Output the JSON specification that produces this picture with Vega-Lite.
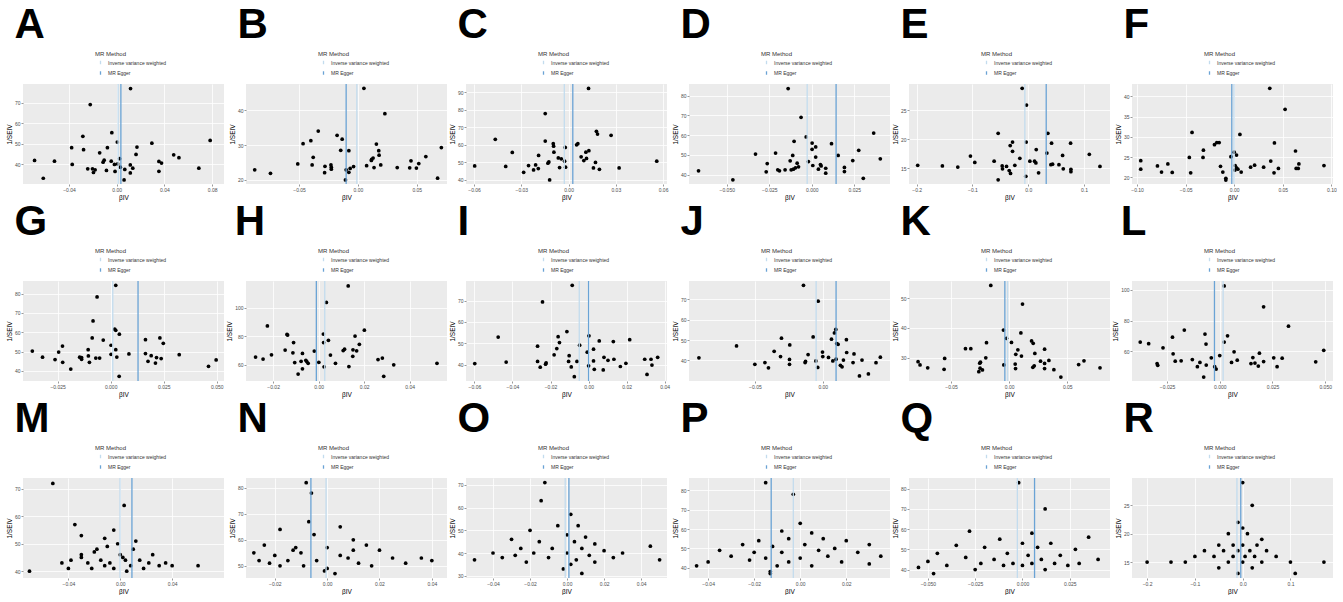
{
"$schema": "https://vega.github.io/schema/vega-lite/v6.json",
"padding": {"left": 6, "top": 4, "right": 0, "bottom": 0},
"spacing": {"row": 0, "column": 2},
"columns": 6,
"datasets": {
"lines": [
{"p":"A","m":"Inverse variance weighted","b":0.0012},{"p":"A","m":"MR Egger","b":0.0035},
{"p":"B","m":"Inverse variance weighted","b":-0.0009},{"p":"B","m":"MR Egger","b":-0.010},
{"p":"C","m":"Inverse variance weighted","b":-0.0027},{"p":"C","m":"MR Egger","b":0.0027},
{"p":"D","m":"Inverse variance weighted","b":-0.0027},{"p":"D","m":"MR Egger","b":0.0143},
{"p":"E","m":"Inverse variance weighted","b":-0.006},{"p":"E","m":"MR Egger","b":0.0323},
{"p":"F","m":"Inverse variance weighted","b":-0.0002},{"p":"F","m":"MR Egger","b":-0.0025},
{"p":"G","m":"Inverse variance weighted","b":0.001},{"p":"G","m":"MR Egger","b":0.0129},
{"p":"H","m":"Inverse variance weighted","b":0.0027},{"p":"H","m":"MR Egger","b":-0.001},
{"p":"I","m":"Inverse variance weighted","b":-0.0049},{"p":"I","m":"MR Egger","b":0.0},
{"p":"J","m":"Inverse variance weighted","b":-0.0049},{"p":"J","m":"MR Egger","b":0.0098},
{"p":"K","m":"Inverse variance weighted","b":-0.0014},{"p":"K","m":"MR Egger","b":-0.0037},
{"p":"L","m":"Inverse variance weighted","b":0.0016},{"p":"L","m":"MR Egger","b":-0.0025},
{"p":"M","m":"Inverse variance weighted","b":-0.0002},{"p":"M","m":"MR Egger","b":0.009},
{"p":"N","m":"Inverse variance weighted","b":-0.0004},{"p":"N","m":"MR Egger","b":-0.0062},
{"p":"O","m":"Inverse variance weighted","b":-0.001},{"p":"O","m":"MR Egger","b":0.001},
{"p":"P","m":"Inverse variance weighted","b":-0.003},{"p":"P","m":"MR Egger","b":-0.0126},
{"p":"Q","m":"Inverse variance weighted","b":-0.0027},{"p":"Q","m":"MR Egger","b":0.0064},
{"p":"R","m":"Inverse variance weighted","b":-0.012},{"p":"R","m":"MR Egger","b":-0.004}
],
"pts": [
{"p":"A","b":0.0116,"s":77.0},{"p":"A","b":-0.0222,"s":69.2},{"p":"A","b":-0.0041,"s":55.5},{"p":"A","b":-0.0284,"s":53.7},{"p":"A","b":-0.0378,"s":48.2},{"p":"A","b":-0.0278,"s":47.2},{"p":"A","b":0.0005,"s":50.9},{"p":"A","b":-0.0078,"s":48.2},{"p":"A","b":0.0295,"s":50.4},{"p":"A","b":0.017,"s":48.5},{"p":"A","b":0.0784,"s":51.7},{"p":"A","b":-0.0143,"s":45.7},{"p":"A","b":0.0162,"s":44.9},{"p":"A","b":0.0478,"s":44.7},{"p":"A","b":0.0522,"s":43.3},{"p":"A","b":-0.0105,"s":42.1},{"p":"A","b":-0.0114,"s":41.1},{"p":"A","b":-0.0046,"s":41.6},{"p":"A","b":0.0024,"s":42.8},{"p":"A","b":-0.0689,"s":42.0},{"p":"A","b":-0.0522,"s":41.6},{"p":"A","b":-0.0373,"s":40.0},{"p":"A","b":-0.0019,"s":40.0},{"p":"A","b":0.0008,"s":40.3},{"p":"A","b":0.003,"s":38.7},{"p":"A","b":0.0114,"s":39.8},{"p":"A","b":0.0354,"s":41.5},{"p":"A","b":0.0376,"s":40.7},{"p":"A","b":-0.0243,"s":37.9},{"p":"A","b":-0.0203,"s":37.9},{"p":"A","b":-0.0181,"s":37.4},{"p":"A","b":-0.0195,"s":36.1},{"p":"A","b":-0.0086,"s":37.1},{"p":"A","b":-0.0014,"s":36.6},{"p":"A","b":0.0068,"s":37.6},{"p":"A","b":0.0135,"s":38.2},{"p":"A","b":0.0114,"s":35.9},{"p":"A","b":0.0354,"s":36.7},{"p":"A","b":0.0689,"s":38.2},{"p":"A","b":-0.0616,"s":33.3},{"p":"A","b":0.0062,"s":32.5},
{"p":"B","b":0.0051,"s":46.25},{"p":"B","b":0.0229,"s":39.0},{"p":"B","b":-0.0337,"s":34.0},{"p":"B","b":-0.0177,"s":32.8},{"p":"B","b":-0.0134,"s":31.7},{"p":"B","b":-0.04,"s":31.25},{"p":"B","b":-0.0466,"s":30.4},{"p":"B","b":0.0157,"s":30.3},{"p":"B","b":-0.0146,"s":28.5},{"p":"B","b":-0.0077,"s":28.4},{"p":"B","b":0.0177,"s":28.4},{"p":"B","b":0.018,"s":27.1},{"p":"B","b":-0.038,"s":26.5},{"p":"B","b":0.0129,"s":26.3},{"p":"B","b":0.0117,"s":25.9},{"p":"B","b":0.0114,"s":25.6},{"p":"B","b":0.0709,"s":29.3},{"p":"B","b":0.0577,"s":26.7},{"p":"B","b":0.0451,"s":25.5},{"p":"B","b":0.0517,"s":24.7},{"p":"B","b":-0.0511,"s":24.6},{"p":"B","b":-0.0389,"s":24.3},{"p":"B","b":-0.0229,"s":24.3},{"p":"B","b":-0.028,"s":23.9},{"p":"B","b":0.0194,"s":24.3},{"p":"B","b":0.0074,"s":24.1},{"p":"B","b":-0.0037,"s":23.85},{"p":"B","b":-0.0226,"s":23.65},{"p":"B","b":-0.0226,"s":23.1},{"p":"B","b":-0.0066,"s":23.3},{"p":"B","b":0.0137,"s":23.55},{"p":"B","b":0.0334,"s":23.55},{"p":"B","b":0.044,"s":23.5},{"p":"B","b":0.0497,"s":23.4},{"p":"B","b":-0.0877,"s":22.9},{"p":"B","b":-0.01,"s":22.9},{"p":"B","b":-0.0743,"s":21.9},{"p":"B","b":-0.0283,"s":22.1},{"p":"B","b":-0.0077,"s":22.2},{"p":"B","b":-0.0106,"s":20.0},{"p":"B","b":0.0677,"s":20.5},
{"p":"C","b":0.0127,"s":92.3},{"p":"C","b":-0.0148,"s":77.9},{"p":"C","b":-0.0465,"s":63.2},{"p":"C","b":-0.0148,"s":62.2},{"p":"C","b":0.0177,"s":67.8},{"p":"C","b":0.0184,"s":66.2},{"p":"C","b":0.027,"s":65.5},{"p":"C","b":-0.0097,"s":60.7},{"p":"C","b":-0.0095,"s":59.3},{"p":"C","b":-0.0021,"s":58.6},{"p":"C","b":0.0051,"s":60.1},{"p":"C","b":0.0059,"s":60.7},{"p":"C","b":-0.0357,"s":55.7},{"p":"C","b":-0.0093,"s":55.9},{"p":"C","b":0.0129,"s":56.7},{"p":"C","b":0.011,"s":55.9},{"p":"C","b":-0.019,"s":54.0},{"p":"C","b":-0.0065,"s":52.6},{"p":"C","b":-0.0046,"s":52.1},{"p":"C","b":0.008,"s":53.2},{"p":"C","b":0.0114,"s":52.3},{"p":"C","b":-0.0025,"s":50.7},{"p":"C","b":0.0097,"s":51.1},{"p":"C","b":0.056,"s":50.7},{"p":"C","b":-0.0125,"s":50.3},{"p":"C","b":-0.0131,"s":49.6},{"p":"C","b":0.0171,"s":50.0},{"p":"C","b":-0.0596,"s":48.0},{"p":"C","b":-0.0399,"s":47.7},{"p":"C","b":-0.0254,"s":48.2},{"p":"C","b":-0.0209,"s":48.6},{"p":"C","b":-0.0057,"s":47.1},{"p":"C","b":-0.0019,"s":47.3},{"p":"C","b":0.0158,"s":46.9},{"p":"C","b":0.0321,"s":46.9},{"p":"C","b":-0.0192,"s":46.5},{"p":"C","b":-0.0222,"s":45.7},{"p":"C","b":0.0196,"s":46.1},{"p":"C","b":-0.0285,"s":44.4},{"p":"C","b":-0.012,"s":40.0},
{"p":"D","b":-0.0139,"s":83.7},{"p":"D","b":-0.0063,"s":69.1},{"p":"D","b":0.0364,"s":61.1},{"p":"D","b":-0.0033,"s":59.1},{"p":"D","b":-0.0104,"s":56.9},{"p":"D","b":0.0002,"s":56.0},{"p":"D","b":0.0116,"s":55.7},{"p":"D","b":0.0023,"s":54.0},{"p":"D","b":0.0002,"s":52.8},{"p":"D","b":0.0276,"s":52.3},{"p":"D","b":-0.0331,"s":50.4},{"p":"D","b":-0.0213,"s":50.9},{"p":"D","b":-0.0112,"s":49.7},{"p":"D","b":0.0155,"s":49.7},{"p":"D","b":0.0023,"s":48.9},{"p":"D","b":0.0403,"s":48.0},{"p":"D","b":0.0241,"s":47.1},{"p":"D","b":-0.0127,"s":47.0},{"p":"D","b":-0.002,"s":46.6},{"p":"D","b":-0.0262,"s":45.6},{"p":"D","b":-0.0086,"s":45.8},{"p":"D","b":0.0051,"s":45.1},{"p":"D","b":0.0055,"s":44.4},{"p":"D","b":0.0006,"s":44.6},{"p":"D","b":-0.0078,"s":43.9},{"p":"D","b":-0.0096,"s":43.4},{"p":"D","b":0.0082,"s":43.2},{"p":"D","b":0.0192,"s":43.6},{"p":"D","b":-0.0108,"s":42.7},{"p":"D","b":0.0039,"s":42.7},{"p":"D","b":-0.0121,"s":42.4},{"p":"D","b":-0.0157,"s":42.4},{"p":"D","b":-0.02,"s":42.4},{"p":"D","b":-0.019,"s":41.9},{"p":"D","b":-0.0666,"s":41.9},{"p":"D","b":-0.0268,"s":41.4},{"p":"D","b":0.0192,"s":41.5},{"p":"D","b":0.0082,"s":40.7},{"p":"D","b":0.0303,"s":38.1},{"p":"D","b":-0.0464,"s":37.3},
{"p":"E","b":-0.0108,"s":28.76},{"p":"E","b":-0.003,"s":25.87},{"p":"E","b":-0.0539,"s":21.0},{"p":"E","b":0.0353,"s":21.0},{"p":"E","b":-0.0281,"s":19.5},{"p":"E","b":-0.0036,"s":19.5},{"p":"E","b":0.0419,"s":19.3},{"p":"E","b":0.076,"s":19.3},{"p":"E","b":-0.0323,"s":18.9},{"p":"E","b":-0.0281,"s":17.9},{"p":"E","b":0.0144,"s":18.2},{"p":"E","b":0.0335,"s":17.6},{"p":"E","b":0.0617,"s":17.2},{"p":"E","b":0.1096,"s":17.4},{"p":"E","b":-0.1036,"s":17.1},{"p":"E","b":-0.015,"s":16.7},{"p":"E","b":-0.0958,"s":16.0},{"p":"E","b":-0.0611,"s":16.2},{"p":"E","b":0.003,"s":16.2},{"p":"E","b":0.0114,"s":16.2},{"p":"E","b":0.0138,"s":15.9},{"p":"E","b":0.0437,"s":15.7},{"p":"E","b":0.0407,"s":15.6},{"p":"E","b":0.0551,"s":15.6},{"p":"E","b":-0.024,"s":15.5},{"p":"E","b":-0.0467,"s":15.4},{"p":"E","b":-0.0389,"s":15.3},{"p":"E","b":-0.1982,"s":15.5},{"p":"E","b":-0.1539,"s":15.4},{"p":"E","b":-0.1263,"s":15.2},{"p":"E","b":0.1287,"s":15.3},{"p":"E","b":-0.0461,"s":14.9},{"p":"E","b":0.0629,"s":14.9},{"p":"E","b":0.0766,"s":14.8},{"p":"E","b":0.0766,"s":14.4},{"p":"E","b":-0.0341,"s":14.6},{"p":"E","b":-0.0317,"s":14.1},{"p":"E","b":0.0186,"s":14.2},{"p":"E","b":-0.0042,"s":13.6},{"p":"E","b":-0.0539,"s":13.0},
{"p":"F","b":0.0366,"s":42.0},{"p":"F","b":0.0524,"s":36.8},{"p":"F","b":-0.0434,"s":31.1},{"p":"F","b":0.0059,"s":30.6},{"p":"F","b":-0.0317,"s":26.7},{"p":"F","b":0.0414,"s":28.5},{"p":"F","b":-0.0203,"s":28.05},{"p":"F","b":-0.0179,"s":28.6},{"p":"F","b":-0.0155,"s":28.6},{"p":"F","b":0.0,"s":26.2},{"p":"F","b":0.0024,"s":25.5},{"p":"F","b":0.0631,"s":26.5},{"p":"F","b":-0.0034,"s":25.1},{"p":"F","b":-0.0462,"s":24.9},{"p":"F","b":-0.0321,"s":24.9},{"p":"F","b":-0.0962,"s":24.1},{"p":"F","b":0.0376,"s":24.0},{"p":"F","b":-0.0683,"s":23.3},{"p":"F","b":0.0666,"s":23.3},{"p":"F","b":-0.079,"s":22.8},{"p":"F","b":-0.0141,"s":22.7},{"p":"F","b":0.001,"s":22.9},{"p":"F","b":0.021,"s":23.0},{"p":"F","b":0.0924,"s":22.9},{"p":"F","b":0.0169,"s":22.5},{"p":"F","b":0.0303,"s":22.5},{"p":"F","b":0.0024,"s":22.3},{"p":"F","b":0.0038,"s":22.0},{"p":"F","b":0.0455,"s":22.2},{"p":"F","b":0.0638,"s":22.2},{"p":"F","b":0.0659,"s":22.2},{"p":"F","b":-0.0962,"s":22.0},{"p":"F","b":0.0007,"s":21.8},{"p":"F","b":-0.0748,"s":21.3},{"p":"F","b":0.0072,"s":21.3},{"p":"F","b":-0.0117,"s":21.3},{"p":"F","b":-0.0638,"s":21.2},{"p":"F","b":-0.0448,"s":21.1},{"p":"F","b":0.041,"s":21.1},{"p":"F","b":-0.0086,"s":19.75},{"p":"F","b":-0.0086,"s":19.3},
{"p":"G","b":0.0024,"s":84.3},{"p":"G","b":-0.0064,"s":78.3},{"p":"G","b":-0.0083,"s":65.9},{"p":"G","b":0.0019,"s":61.6},{"p":"G","b":0.0024,"s":61.0},{"p":"G","b":0.0041,"s":59.0},{"p":"G","b":-0.0087,"s":57.1},{"p":"G","b":0.0164,"s":56.2},{"p":"G","b":0.0232,"s":57.1},{"p":"G","b":-0.0035,"s":56.0},{"p":"G","b":0.0248,"s":54.3},{"p":"G","b":-0.0227,"s":52.9},{"p":"G","b":0.0002,"s":53.3},{"p":"G","b":-0.0106,"s":51.0},{"p":"G","b":0.0024,"s":51.0},{"p":"G","b":-0.0369,"s":50.3},{"p":"G","b":-0.0245,"s":49.8},{"p":"G","b":0.0002,"s":48.6},{"p":"G","b":0.0086,"s":48.8},{"p":"G","b":0.0164,"s":49.0},{"p":"G","b":0.0323,"s":48.4},{"p":"G","b":-0.0105,"s":47.8},{"p":"G","b":0.0191,"s":47.9},{"p":"G","b":-0.0321,"s":47.1},{"p":"G","b":-0.0146,"s":47.1},{"p":"G","b":-0.0137,"s":46.9},{"p":"G","b":-0.007,"s":46.7},{"p":"G","b":-0.0052,"s":46.7},{"p":"G","b":0.0029,"s":47.2},{"p":"G","b":0.0216,"s":46.9},{"p":"G","b":0.0238,"s":46.4},{"p":"G","b":-0.0137,"s":46.0},{"p":"G","b":-0.0262,"s":45.9},{"p":"G","b":0.0497,"s":45.7},{"p":"G","b":0.0176,"s":45.0},{"p":"G","b":-0.0226,"s":44.5},{"p":"G","b":-0.01,"s":44.5},{"p":"G","b":0.0211,"s":44.1},{"p":"G","b":0.0461,"s":42.4},{"p":"G","b":-0.0188,"s":41.0},{"p":"G","b":0.004,"s":37.2},
{"p":"H","b":0.013,"s":115.5},{"p":"H","b":0.0034,"s":103.9},{"p":"H","b":-0.0225,"s":87.3},{"p":"H","b":0.0201,"s":84.3},{"p":"H","b":-0.0139,"s":81.3},{"p":"H","b":-0.0136,"s":80.8},{"p":"H","b":0.0021,"s":81.5},{"p":"H","b":0.016,"s":80.1},{"p":"H","b":0.0043,"s":77.1},{"p":"H","b":0.0022,"s":75.5},{"p":"H","b":-0.011,"s":75.5},{"p":"H","b":0.0179,"s":74.3},{"p":"H","b":-0.0147,"s":70.2},{"p":"H","b":0.0114,"s":70.9},{"p":"H","b":0.0108,"s":69.9},{"p":"H","b":0.0151,"s":70.4},{"p":"H","b":0.0167,"s":69.7},{"p":"H","b":-0.0019,"s":69.5},{"p":"H","b":-0.0113,"s":68.3},{"p":"H","b":-0.0071,"s":67.9},{"p":"H","b":-0.0207,"s":66.9},{"p":"H","b":0.0052,"s":66.7},{"p":"H","b":0.015,"s":65.8},{"p":"H","b":-0.0277,"s":65.3},{"p":"H","b":0.028,"s":64.6},{"p":"H","b":-0.0244,"s":63.9},{"p":"H","b":0.0261,"s":63.5},{"p":"H","b":-0.0056,"s":63.0},{"p":"H","b":-0.0052,"s":62.1},{"p":"H","b":-0.0077,"s":62.3},{"p":"H","b":-0.0105,"s":61.4},{"p":"H","b":-0.0046,"s":60.9},{"p":"H","b":0.0001,"s":61.6},{"p":"H","b":0.0074,"s":60.9},{"p":"H","b":0.033,"s":59.8},{"p":"H","b":0.052,"s":60.9},{"p":"H","b":0.0024,"s":58.4},{"p":"H","b":0.0133,"s":58.6},{"p":"H","b":-0.0071,"s":57.0},{"p":"H","b":-0.009,"s":53.3},{"p":"H","b":0.0286,"s":51.7},
{"p":"I","b":-0.0086,"s":77.2},{"p":"I","b":-0.0242,"s":69.4},{"p":"I","b":-0.0114,"s":55.5},{"p":"I","b":-0.0475,"s":52.9},{"p":"I","b":-0.016,"s":53.1},{"p":"I","b":0.0002,"s":53.5},{"p":"I","b":0.0216,"s":51.7},{"p":"I","b":-0.0153,"s":50.3},{"p":"I","b":0.0056,"s":51.1},{"p":"I","b":0.013,"s":50.8},{"p":"I","b":-0.0268,"s":48.6},{"p":"I","b":-0.0047,"s":49.1},{"p":"I","b":-0.0167,"s":47.5},{"p":"I","b":0.0026,"s":47.2},{"p":"I","b":-0.0007,"s":45.8},{"p":"I","b":-0.0181,"s":44.6},{"p":"I","b":-0.0102,"s":44.2},{"p":"I","b":0.0081,"s":43.4},{"p":"I","b":0.0133,"s":42.5},{"p":"I","b":0.0363,"s":43.4},{"p":"I","b":0.0102,"s":42.0},{"p":"I","b":0.0295,"s":42.5},{"p":"I","b":0.0328,"s":42.5},{"p":"I","b":-0.0268,"s":41.5},{"p":"I","b":-0.0105,"s":41.5},{"p":"I","b":-0.0061,"s":41.5},{"p":"I","b":0.0026,"s":41.7},{"p":"I","b":-0.0433,"s":41.2},{"p":"I","b":-0.0598,"s":40.5},{"p":"I","b":-0.0223,"s":40.8},{"p":"I","b":-0.0226,"s":40.2},{"p":"I","b":0.0196,"s":40.6},{"p":"I","b":0.0333,"s":39.8},{"p":"I","b":0.0,"s":39.4},{"p":"I","b":-0.0091,"s":38.9},{"p":"I","b":-0.0254,"s":38.8},{"p":"I","b":0.0167,"s":39.1},{"p":"I","b":0.003,"s":37.8},{"p":"I","b":0.0077,"s":37.5},{"p":"I","b":-0.0075,"s":34.3},{"p":"I","b":0.0307,"s":35.4},
{"p":"J","b":-0.0142,"s":76.8},{"p":"J","b":-0.0034,"s":69.0},{"p":"J","b":0.0096,"s":55.2},{"p":"J","b":0.0086,"s":53.5},{"p":"J","b":-0.0071,"s":51.5},{"p":"J","b":-0.0304,"s":50.9},{"p":"J","b":0.0064,"s":50.4},{"p":"J","b":0.0174,"s":50.2},{"p":"J","b":0.0103,"s":48.3},{"p":"J","b":0.0113,"s":47.9},{"p":"J","b":-0.0635,"s":47.1},{"p":"J","b":-0.0243,"s":47.6},{"p":"J","b":-0.0358,"s":44.5},{"p":"J","b":-0.0002,"s":44.1},{"p":"J","b":0.0176,"s":43.9},{"p":"J","b":0.023,"s":43.2},{"p":"J","b":-0.0108,"s":42.9},{"p":"J","b":-0.0311,"s":41.9},{"p":"J","b":0.0,"s":41.9},{"p":"J","b":0.0042,"s":41.5},{"p":"J","b":0.0424,"s":41.6},{"p":"J","b":-0.0912,"s":41.3},{"p":"J","b":-0.0245,"s":40.5},{"p":"J","b":0.0098,"s":40.6},{"p":"J","b":0.0152,"s":40.2},{"p":"J","b":0.0074,"s":39.8},{"p":"J","b":0.0289,"s":40.2},{"p":"J","b":-0.0051,"s":39.8},{"p":"J","b":-0.0127,"s":39.5},{"p":"J","b":-0.013,"s":39.0},{"p":"J","b":-0.0426,"s":39.0},{"p":"J","b":0.0223,"s":39.0},{"p":"J","b":0.0392,"s":38.9},{"p":"J","b":-0.05,"s":38.1},{"p":"J","b":-0.0245,"s":38.1},{"p":"J","b":0.013,"s":37.6},{"p":"J","b":0.0142,"s":36.9},{"p":"J","b":-0.04,"s":36.4},{"p":"J","b":-0.0037,"s":36.6},{"p":"J","b":0.0336,"s":33.4},{"p":"J","b":0.027,"s":32.4},
{"p":"K","b":-0.0158,"s":54.4},{"p":"K","b":0.0115,"s":48.1},{"p":"K","b":-0.0049,"s":39.3},{"p":"K","b":0.0101,"s":38.3},{"p":"K","b":-0.0023,"s":36.5},{"p":"K","b":0.002,"s":35.1},{"p":"K","b":0.0193,"s":35.6},{"p":"K","b":0.0207,"s":34.8},{"p":"K","b":-0.0195,"s":35.0},{"p":"K","b":-0.0376,"s":33.0},{"p":"K","b":-0.033,"s":33.0},{"p":"K","b":0.0075,"s":32.6},{"p":"K","b":0.0305,"s":32.8},{"p":"K","b":0.0057,"s":31.1},{"p":"K","b":0.0221,"s":31.4},{"p":"K","b":0.0106,"s":30.5},{"p":"K","b":-0.0555,"s":29.7},{"p":"K","b":-0.0201,"s":29.9},{"p":"K","b":0.0342,"s":29.0},{"p":"K","b":-0.0784,"s":28.6},{"p":"K","b":0.027,"s":28.75},{"p":"K","b":-0.0247,"s":28.4},{"p":"K","b":-0.0253,"s":28.1},{"p":"K","b":0.0598,"s":27.6},{"p":"K","b":0.0644,"s":28.9},{"p":"K","b":0.0305,"s":28.0},{"p":"K","b":-0.0767,"s":27.5},{"p":"K","b":-0.0046,"s":27.5},{"p":"K","b":0.0052,"s":27.8},{"p":"K","b":0.0216,"s":27.2},{"p":"K","b":0.0204,"s":26.7},{"p":"K","b":-0.0701,"s":26.5},{"p":"K","b":-0.056,"s":26.0},{"p":"K","b":0.0055,"s":26.25},{"p":"K","b":0.0305,"s":26.25},{"p":"K","b":0.0385,"s":25.9},{"p":"K","b":0.0782,"s":26.5},{"p":"K","b":-0.025,"s":26.4},{"p":"K","b":-0.023,"s":25.8},{"p":"K","b":-0.0261,"s":25.2},{"p":"K","b":0.0445,"s":23.4},
{"p":"L","b":0.0021,"s":102.6},{"p":"L","b":0.0208,"s":89.0},{"p":"L","b":0.0326,"s":76.3},{"p":"L","b":-0.0168,"s":73.8},{"p":"L","b":-0.007,"s":71.2},{"p":"L","b":0.0037,"s":70.1},{"p":"L","b":-0.0224,"s":69.2},{"p":"L","b":-0.0377,"s":66.0},{"p":"L","b":-0.0337,"s":64.9},{"p":"L","b":-0.0065,"s":64.7},{"p":"L","b":0.0021,"s":66.0},{"p":"L","b":-0.0269,"s":62.2},{"p":"L","b":0.0493,"s":60.6},{"p":"L","b":0.0068,"s":59.6},{"p":"L","b":-0.0221,"s":58.3},{"p":"L","b":0.0188,"s":58.7},{"p":"L","b":0.0,"s":57.2},{"p":"L","b":-0.004,"s":55.7},{"p":"L","b":0.0157,"s":55.9},{"p":"L","b":0.0256,"s":55.7},{"p":"L","b":0.0296,"s":55.5},{"p":"L","b":-0.013,"s":54.6},{"p":"L","b":0.0083,"s":54.2},{"p":"L","b":-0.0211,"s":53.5},{"p":"L","b":-0.0183,"s":53.8},{"p":"L","b":0.0208,"s":53.3},{"p":"L","b":0.0056,"s":52.7},{"p":"L","b":0.0455,"s":53.1},{"p":"L","b":-0.0094,"s":52.7},{"p":"L","b":0.0148,"s":52.0},{"p":"L","b":0.0167,"s":52.3},{"p":"L","b":-0.0297,"s":52.0},{"p":"L","b":-0.0294,"s":50.8},{"p":"L","b":-0.0064,"s":51.0},{"p":"L","b":0.0183,"s":50.3},{"p":"L","b":-0.0106,"s":49.9},{"p":"L","b":0.0272,"s":49.9},{"p":"L","b":-0.0024,"s":49.9},{"p":"L","b":-0.0017,"s":48.4},{"p":"L","b":-0.0076,"s":43.2},
{"p":"M","b":-0.052,"s":72},{"p":"M","b":-0.035,"s":57},{"p":"M","b":-0.03,"s":53},{"p":"M","b":-0.005,"s":55},{"p":"M","b":0.003,"s":64},{"p":"M","b":-0.002,"s":50},{"p":"M","b":-0.01,"s":49},{"p":"M","b":0.012,"s":51},{"p":"M","b":0.01,"s":48},{"p":"M","b":-0.02,"s":47},{"p":"M","b":-0.03,"s":45},{"p":"M","b":-0.038,"s":44},{"p":"M","b":-0.025,"s":43},{"p":"M","b":-0.015,"s":44},{"p":"M","b":-0.008,"s":43},{"p":"M","b":0.002,"s":45},{"p":"M","b":0.015,"s":44},{"p":"M","b":0.022,"s":43},{"p":"M","b":0.03,"s":42},{"p":"M","b":0.04,"s":42},{"p":"M","b":0.06,"s":42},{"p":"M","b":-0.07,"s":40},{"p":"M","b":-0.04,"s":41},{"p":"M","b":-0.022,"s":41},{"p":"M","b":-0.012,"s":42},{"p":"M","b":-0.005,"s":41},{"p":"M","b":0.005,"s":40},{"p":"M","b":0.008,"s":42},{"p":"M","b":0.018,"s":41},{"p":"M","b":-0.03,"s":46},{"p":"M","b":-0.018,"s":48},{"p":"M","b":0.0,"s":46},{"p":"M","b":-0.012,"s":52},{"p":"M","b":0.025,"s":46},{"p":"M","b":-0.045,"s":43},{"p":"M","b":0.004,"s":44},{"p":"M","b":0.035,"s":43},
{"p":"N","b":-0.008,"s":82},{"p":"N","b":-0.006,"s":78},{"p":"N","b":-0.007,"s":67},{"p":"N","b":-0.018,"s":64},{"p":"N","b":-0.005,"s":62},{"p":"N","b":0.005,"s":65},{"p":"N","b":0.01,"s":60},{"p":"N","b":-0.024,"s":58},{"p":"N","b":-0.012,"s":57},{"p":"N","b":0.0,"s":57},{"p":"N","b":0.015,"s":58},{"p":"N","b":-0.028,"s":55},{"p":"N","b":-0.02,"s":54},{"p":"N","b":-0.01,"s":55},{"p":"N","b":0.005,"s":54},{"p":"N","b":0.02,"s":56},{"p":"N","b":-0.015,"s":52},{"p":"N","b":-0.004,"s":52},{"p":"N","b":0.008,"s":53},{"p":"N","b":0.025,"s":53},{"p":"N","b":0.04,"s":52},{"p":"N","b":-0.022,"s":51},{"p":"N","b":0.012,"s":51},{"p":"N","b":0.03,"s":51},{"p":"N","b":-0.018,"s":50},{"p":"N","b":-0.009,"s":50},{"p":"N","b":0.0,"s":49},{"p":"N","b":0.017,"s":50},{"p":"N","b":-0.026,"s":52},{"p":"N","b":0.036,"s":53},{"p":"N","b":-0.001,"s":48},{"p":"N","b":0.003,"s":47},{"p":"N","b":-0.013,"s":56},{"p":"N","b":0.01,"s":56},
{"p":"O","b":-0.012,"s":71},{"p":"O","b":-0.014,"s":63},{"p":"O","b":0.002,"s":57},{"p":"O","b":-0.005,"s":52},{"p":"O","b":0.006,"s":52},{"p":"O","b":-0.02,"s":50},{"p":"O","b":0.0,"s":48},{"p":"O","b":0.01,"s":47},{"p":"O","b":-0.03,"s":46},{"p":"O","b":-0.015,"s":45},{"p":"O","b":0.004,"s":45},{"p":"O","b":0.015,"s":44},{"p":"O","b":-0.025,"s":42},{"p":"O","b":-0.008,"s":42},{"p":"O","b":0.008,"s":42},{"p":"O","b":0.02,"s":41},{"p":"O","b":0.045,"s":43},{"p":"O","b":-0.04,"s":40},{"p":"O","b":-0.018,"s":40},{"p":"O","b":0.0,"s":40},{"p":"O","b":0.012,"s":39},{"p":"O","b":-0.05,"s":37},{"p":"O","b":-0.035,"s":38},{"p":"O","b":-0.01,"s":38},{"p":"O","b":0.005,"s":37},{"p":"O","b":0.025,"s":38},{"p":"O","b":0.05,"s":37},{"p":"O","b":-0.022,"s":36},{"p":"O","b":0.002,"s":35},{"p":"O","b":0.015,"s":36},{"p":"O","b":-0.002,"s":33},{"p":"O","b":0.008,"s":31},{"p":"O","b":-0.028,"s":39},{"p":"O","b":0.03,"s":40},
{"p":"P","b":-0.015,"s":84},{"p":"P","b":-0.003,"s":78},{"p":"P","b":0.0,"s":63},{"p":"P","b":-0.008,"s":59},{"p":"P","b":0.005,"s":58},{"p":"P","b":-0.018,"s":54},{"p":"P","b":-0.005,"s":55},{"p":"P","b":0.01,"s":55},{"p":"P","b":0.02,"s":54},{"p":"P","b":0.03,"s":52},{"p":"P","b":-0.025,"s":52},{"p":"P","b":-0.012,"s":51},{"p":"P","b":0.002,"s":52},{"p":"P","b":0.015,"s":50},{"p":"P","b":-0.035,"s":49},{"p":"P","b":-0.02,"s":48},{"p":"P","b":-0.008,"s":48},{"p":"P","b":0.008,"s":49},{"p":"P","b":0.025,"s":48},{"p":"P","b":-0.03,"s":46},{"p":"P","b":-0.015,"s":45},{"p":"P","b":0.0,"s":45},{"p":"P","b":0.012,"s":46},{"p":"P","b":0.035,"s":46},{"p":"P","b":-0.04,"s":43},{"p":"P","b":-0.022,"s":44},{"p":"P","b":-0.005,"s":43},{"p":"P","b":0.018,"s":43},{"p":"P","b":0.03,"s":42},{"p":"P","b":-0.045,"s":41},{"p":"P","b":-0.01,"s":41},{"p":"P","b":0.005,"s":41},{"p":"P","b":-0.013,"s":38},{"p":"P","b":-0.013,"s":37},
{"p":"Q","b":-0.002,"s":83},{"p":"Q","b":0.012,"s":70},{"p":"Q","b":-0.028,"s":59},{"p":"Q","b":0.005,"s":58},{"p":"Q","b":0.035,"s":56},{"p":"Q","b":-0.012,"s":55},{"p":"Q","b":0.0,"s":53},{"p":"Q","b":0.015,"s":53},{"p":"Q","b":-0.035,"s":52},{"p":"Q","b":-0.02,"s":51},{"p":"Q","b":0.008,"s":51},{"p":"Q","b":0.028,"s":50},{"p":"Q","b":-0.045,"s":48},{"p":"Q","b":-0.008,"s":48},{"p":"Q","b":0.003,"s":47},{"p":"Q","b":0.02,"s":47},{"p":"Q","b":-0.03,"s":46},{"p":"Q","b":-0.015,"s":45},{"p":"Q","b":0.01,"s":45},{"p":"Q","b":0.04,"s":45},{"p":"Q","b":-0.05,"s":44},{"p":"Q","b":-0.022,"s":43},{"p":"Q","b":-0.005,"s":43},{"p":"Q","b":0.005,"s":43},{"p":"Q","b":0.017,"s":43},{"p":"Q","b":0.03,"s":43},{"p":"Q","b":-0.04,"s":42},{"p":"Q","b":-0.01,"s":42},{"p":"Q","b":0.0,"s":42},{"p":"Q","b":0.024,"s":42},{"p":"Q","b":-0.055,"s":41},{"p":"Q","b":-0.025,"s":40},{"p":"Q","b":0.012,"s":40},{"p":"Q","b":-0.047,"s":38},
{"p":"R","b":0.0,"s":29},{"p":"R","b":0.02,"s":25},{"p":"R","b":-0.01,"s":22},{"p":"R","b":0.0,"s":21},{"p":"R","b":-0.03,"s":20},{"p":"R","b":0.01,"s":20},{"p":"R","b":0.04,"s":19},{"p":"R","b":-0.05,"s":18},{"p":"R","b":-0.02,"s":18},{"p":"R","b":0.0,"s":18},{"p":"R","b":0.03,"s":18},{"p":"R","b":-0.08,"s":17},{"p":"R","b":-0.04,"s":17},{"p":"R","b":-0.01,"s":17},{"p":"R","b":0.015,"s":17},{"p":"R","b":0.05,"s":17},{"p":"R","b":-0.1,"s":16},{"p":"R","b":-0.06,"s":16},{"p":"R","b":-0.02,"s":16},{"p":"R","b":0.005,"s":16},{"p":"R","b":0.025,"s":16},{"p":"R","b":0.07,"s":16},{"p":"R","b":-0.2,"s":15},{"p":"R","b":-0.15,"s":15},{"p":"R","b":-0.12,"s":15},{"p":"R","b":-0.03,"s":15},{"p":"R","b":0.0,"s":15},{"p":"R","b":0.04,"s":15},{"p":"R","b":0.1,"s":15},{"p":"R","b":0.17,"s":15},{"p":"R","b":-0.05,"s":14},{"p":"R","b":0.02,"s":14},{"p":"R","b":0.11,"s":13},{"p":"R","b":-0.01,"s":13}
]
},
"concat": [
{"title":"A","width":201,"height":100,"encoding":{"x":{"field":"b","type":"quantitative","title":"βIV","scale":{"domain":[-0.0786,0.09],"nice":false,"zero":false},"axis":{"values":[-0.04,0,0.04,0.08],"format":".2f"}}},"layer":[
{"data":{"name":"pts"},"transform":[{"filter":"datum.p=='A'"}],"mark":{"type":"circle","color":"#000","size":14,"opacity":1},"encoding":{"y":{"field":"s","type":"quantitative","title":"1/SEIV","scale":{"domain":[30.5,79.2],"nice":false,"zero":false},"axis":{"values":[40,50,60,70]}}}},
{"data":{"name":"lines"},"transform":[{"filter":"datum.p=='A'"}],"mark":{"type":"rule","strokeWidth":1.3},"encoding":{"color":{"field":"m","type":"nominal","title":"MR Method","scale":{"domain":["Inverse variance weighted","MR Egger"],"range":["#c3dcee","#6aa3d5"]}}}}]},
{"title":"B","width":201,"height":100,"encoding":{"x":{"field":"b","type":"quantitative","title":"βIV","scale":{"domain":[-0.0951,0.0757],"nice":false,"zero":false},"axis":{"values":[-0.05,0,0.05],"format":".2f"}}},"layer":[
{"data":{"name":"pts"},"transform":[{"filter":"datum.p=='B'"}],"mark":{"type":"circle","color":"#000","size":14,"opacity":1},"encoding":{"y":{"field":"s","type":"quantitative","title":"1/SEIV","scale":{"domain":[18.85,47.5],"nice":false,"zero":false},"axis":{"values":[20,30,40]}}}},
{"data":{"name":"lines"},"transform":[{"filter":"datum.p=='B'"}],"mark":{"type":"rule","strokeWidth":1.3},"encoding":{"color":{"field":"m","type":"nominal","title":"MR Method","scale":{"domain":["Inverse variance weighted","MR Egger"],"range":["#c3dcee","#6aa3d5"]}}}}]},
{"title":"C","width":201,"height":100,"encoding":{"x":{"field":"b","type":"quantitative","title":"βIV","scale":{"domain":[-0.0651,0.0625],"nice":false,"zero":false},"axis":{"values":[-0.06,-0.03,0,0.03,0.06],"format":".2f"}}},"layer":[
{"data":{"name":"pts"},"transform":[{"filter":"datum.p=='C'"}],"mark":{"type":"circle","color":"#000","size":14,"opacity":1},"encoding":{"y":{"field":"s","type":"quantitative","title":"1/SEIV","scale":{"domain":[37.7,94.8],"nice":false,"zero":false},"axis":{"values":[40,50,60,70,80,90]}}}},
{"data":{"name":"lines"},"transform":[{"filter":"datum.p=='C'"}],"mark":{"type":"rule","strokeWidth":1.3},"encoding":{"color":{"field":"m","type":"nominal","title":"MR Method","scale":{"domain":["Inverse variance weighted","MR Egger"],"range":["#c3dcee","#6aa3d5"]}}}}]},
{"title":"D","width":201,"height":100,"encoding":{"x":{"field":"b","type":"quantitative","title":"βIV","scale":{"domain":[-0.0722,0.046],"nice":false,"zero":false},"axis":{"values":[-0.05,-0.025,0,0.025],"format":".3f"}}},"layer":[
{"data":{"name":"pts"},"transform":[{"filter":"datum.p=='D'"}],"mark":{"type":"circle","color":"#000","size":14,"opacity":1},"encoding":{"y":{"field":"s","type":"quantitative","title":"1/SEIV","scale":{"domain":[35.2,86],"nice":false,"zero":false},"axis":{"values":[40,50,60,70,80]}}}},
{"data":{"name":"lines"},"transform":[{"filter":"datum.p=='D'"}],"mark":{"type":"rule","strokeWidth":1.3},"encoding":{"color":{"field":"m","type":"nominal","title":"MR Method","scale":{"domain":["Inverse variance weighted","MR Egger"],"range":["#c3dcee","#6aa3d5"]}}}}]},
{"title":"E","width":201,"height":100,"encoding":{"x":{"field":"b","type":"quantitative","title":"βIV","scale":{"domain":[-0.2138,0.1467],"nice":false,"zero":false},"axis":{"values":[-0.2,-0.1,0,0.1],"format":".1f"}}},"layer":[
{"data":{"name":"pts"},"transform":[{"filter":"datum.p=='E'"}],"mark":{"type":"circle","color":"#000","size":14,"opacity":1},"encoding":{"y":{"field":"s","type":"quantitative","title":"1/SEIV","scale":{"domain":[12.28,29.5],"nice":false,"zero":false},"axis":{"values":[15,20,25]}}}},
{"data":{"name":"lines"},"transform":[{"filter":"datum.p=='E'"}],"mark":{"type":"rule","strokeWidth":1.3},"encoding":{"color":{"field":"m","type":"nominal","title":"MR Method","scale":{"domain":["Inverse variance weighted","MR Egger"],"range":["#c3dcee","#6aa3d5"]}}}}]},
{"title":"F","width":201,"height":100,"encoding":{"x":{"field":"b","type":"quantitative","title":"βIV","scale":{"domain":[-0.1052,0.1017],"nice":false,"zero":false},"axis":{"values":[-0.1,-0.05,0,0.05,0.1],"format":".2f"}}},"layer":[
{"data":{"name":"pts"},"transform":[{"filter":"datum.p=='F'"}],"mark":{"type":"circle","color":"#000","size":14,"opacity":1},"encoding":{"y":{"field":"s","type":"quantitative","title":"1/SEIV","scale":{"domain":[18.34,43.07],"nice":false,"zero":false},"axis":{"values":[20,25,30,35,40]}}}},
{"data":{"name":"lines"},"transform":[{"filter":"datum.p=='F'"}],"mark":{"type":"rule","strokeWidth":1.3},"encoding":{"color":{"field":"m","type":"nominal","title":"MR Method","scale":{"domain":["Inverse variance weighted","MR Egger"],"range":["#c3dcee","#6aa3d5"]}}}}]},
{"title":"G","width":201,"height":100,"encoding":{"x":{"field":"b","type":"quantitative","title":"βIV","scale":{"domain":[-0.0413,0.0534],"nice":false,"zero":false},"axis":{"values":[-0.025,0,0.025,0.05],"format":".3f"}}},"layer":[
{"data":{"name":"pts"},"transform":[{"filter":"datum.p=='G'"}],"mark":{"type":"circle","color":"#000","size":14,"opacity":1},"encoding":{"y":{"field":"s","type":"quantitative","title":"1/SEIV","scale":{"domain":[34.8,86.55],"nice":false,"zero":false},"axis":{"values":[40,50,60,70,80]}}}},
{"data":{"name":"lines"},"transform":[{"filter":"datum.p=='G'"}],"mark":{"type":"rule","strokeWidth":1.3},"encoding":{"color":{"field":"m","type":"nominal","title":"MR Method","scale":{"domain":["Inverse variance weighted","MR Egger"],"range":["#c3dcee","#6aa3d5"]}}}}]},
{"title":"H","width":201,"height":100,"encoding":{"x":{"field":"b","type":"quantitative","title":"βIV","scale":{"domain":[-0.0319,0.0564],"nice":false,"zero":false},"axis":{"values":[-0.02,0,0.02,0.04],"format":".2f"}}},"layer":[
{"data":{"name":"pts"},"transform":[{"filter":"datum.p=='H'"}],"mark":{"type":"circle","color":"#000","size":14,"opacity":1},"encoding":{"y":{"field":"s","type":"quantitative","title":"1/SEIV","scale":{"domain":[48.4,119],"nice":false,"zero":false},"axis":{"values":[60,80,100]}}}},
{"data":{"name":"lines"},"transform":[{"filter":"datum.p=='H'"}],"mark":{"type":"rule","strokeWidth":1.3},"encoding":{"color":{"field":"m","type":"nominal","title":"MR Method","scale":{"domain":["Inverse variance weighted","MR Egger"],"range":["#c3dcee","#6aa3d5"]}}}}]},
{"title":"I","width":201,"height":100,"encoding":{"x":{"field":"b","type":"quantitative","title":"βIV","scale":{"domain":[-0.0644,0.0412],"nice":false,"zero":false},"axis":{"values":[-0.06,-0.04,-0.02,0,0.02,0.04],"format":".2f"}}},"layer":[
{"data":{"name":"pts"},"transform":[{"filter":"datum.p=='I'"}],"mark":{"type":"circle","color":"#000","size":14,"opacity":1},"encoding":{"y":{"field":"s","type":"quantitative","title":"1/SEIV","scale":{"domain":[32.3,79.2],"nice":false,"zero":false},"axis":{"values":[40,50,60,70]}}}},
{"data":{"name":"lines"},"transform":[{"filter":"datum.p=='I'"}],"mark":{"type":"rule","strokeWidth":1.3},"encoding":{"color":{"field":"m","type":"nominal","title":"MR Method","scale":{"domain":["Inverse variance weighted","MR Egger"],"range":["#c3dcee","#6aa3d5"]}}}}]},
{"title":"J","width":201,"height":100,"encoding":{"x":{"field":"b","type":"quantitative","title":"βIV","scale":{"domain":[-0.0985,0.0495],"nice":false,"zero":false},"axis":{"values":[-0.05,0],"format":".2f"}}},"layer":[
{"data":{"name":"pts"},"transform":[{"filter":"datum.p=='J'"}],"mark":{"type":"circle","color":"#000","size":14,"opacity":1},"encoding":{"y":{"field":"s","type":"quantitative","title":"1/SEIV","scale":{"domain":[29.95,78.9],"nice":false,"zero":false},"axis":{"values":[40,50,60,70]}}}},
{"data":{"name":"lines"},"transform":[{"filter":"datum.p=='J'"}],"mark":{"type":"rule","strokeWidth":1.3},"encoding":{"color":{"field":"m","type":"nominal","title":"MR Method","scale":{"domain":["Inverse variance weighted","MR Egger"],"range":["#c3dcee","#6aa3d5"]}}}}]},
{"title":"K","width":201,"height":100,"encoding":{"x":{"field":"b","type":"quantitative","title":"βIV","scale":{"domain":[-0.0862,0.0868],"nice":false,"zero":false},"axis":{"values":[-0.05,0,0.05],"format":".2f"}}},"layer":[
{"data":{"name":"pts"},"transform":[{"filter":"datum.p=='K'"}],"mark":{"type":"circle","color":"#000","size":14,"opacity":1},"encoding":{"y":{"field":"s","type":"quantitative","title":"1/SEIV","scale":{"domain":[22.05,55.9],"nice":false,"zero":false},"axis":{"values":[30,40,50]}}}},
{"data":{"name":"lines"},"transform":[{"filter":"datum.p=='K'"}],"mark":{"type":"rule","strokeWidth":1.3},"encoding":{"color":{"field":"m","type":"nominal","title":"MR Method","scale":{"domain":["Inverse variance weighted","MR Egger"],"range":["#c3dcee","#6aa3d5"]}}}}]},
{"title":"L","width":201,"height":100,"encoding":{"x":{"field":"b","type":"quantitative","title":"βIV","scale":{"domain":[-0.0416,0.0537],"nice":false,"zero":false},"axis":{"values":[-0.025,0,0.025,0.05],"format":".3f"}}},"layer":[
{"data":{"name":"pts"},"transform":[{"filter":"datum.p=='L'"}],"mark":{"type":"circle","color":"#000","size":14,"opacity":1},"encoding":{"y":{"field":"s","type":"quantitative","title":"1/SEIV","scale":{"domain":[40.6,105.8],"nice":false,"zero":false},"axis":{"values":[60,80,100]}}}},
{"data":{"name":"lines"},"transform":[{"filter":"datum.p=='L'"}],"mark":{"type":"rule","strokeWidth":1.3},"encoding":{"color":{"field":"m","type":"nominal","title":"MR Method","scale":{"domain":["Inverse variance weighted","MR Egger"],"range":["#c3dcee","#6aa3d5"]}}}}]},
{"title":"M","width":201,"height":100,"encoding":{"x":{"field":"b","type":"quantitative","title":"βIV","scale":{"domain":[-0.075,0.08],"nice":false,"zero":false},"axis":{"values":[-0.04,0,0.04],"format":".2f"}}},"layer":[
{"data":{"name":"pts"},"transform":[{"filter":"datum.p=='M'"}],"mark":{"type":"circle","color":"#000","size":14,"opacity":1},"encoding":{"y":{"field":"s","type":"quantitative","title":"1/SEIV","scale":{"domain":[37.5,74],"nice":false,"zero":false},"axis":{"values":[40,50,60,70]}}}},
{"data":{"name":"lines"},"transform":[{"filter":"datum.p=='M'"}],"mark":{"type":"rule","strokeWidth":1.3},"encoding":{"color":{"field":"m","type":"nominal","title":"MR Method","scale":{"domain":["Inverse variance weighted","MR Egger"],"range":["#c3dcee","#6aa3d5"]}}}}]},
{"title":"N","width":201,"height":100,"encoding":{"x":{"field":"b","type":"quantitative","title":"βIV","scale":{"domain":[-0.031,0.0458],"nice":false,"zero":false},"axis":{"values":[-0.02,0,0.02,0.04],"format":".2f"}}},"layer":[
{"data":{"name":"pts"},"transform":[{"filter":"datum.p=='N'"}],"mark":{"type":"circle","color":"#000","size":14,"opacity":1},"encoding":{"y":{"field":"s","type":"quantitative","title":"1/SEIV","scale":{"domain":[45.3,83.8],"nice":false,"zero":false},"axis":{"values":[50,60,70,80]}}}},
{"data":{"name":"lines"},"transform":[{"filter":"datum.p=='N'"}],"mark":{"type":"rule","strokeWidth":1.3},"encoding":{"color":{"field":"m","type":"nominal","title":"MR Method","scale":{"domain":["Inverse variance weighted","MR Egger"],"range":["#c3dcee","#6aa3d5"]}}}}]},
{"title":"O","width":201,"height":100,"encoding":{"x":{"field":"b","type":"quantitative","title":"βIV","scale":{"domain":[-0.0546,0.054],"nice":false,"zero":false},"axis":{"values":[-0.04,-0.02,0,0.02,0.04],"format":".2f"}}},"layer":[
{"data":{"name":"pts"},"transform":[{"filter":"datum.p=='O'"}],"mark":{"type":"circle","color":"#000","size":14,"opacity":1},"encoding":{"y":{"field":"s","type":"quantitative","title":"1/SEIV","scale":{"domain":[29,73],"nice":false,"zero":false},"axis":{"values":[30,40,50,60,70]}}}},
{"data":{"name":"lines"},"transform":[{"filter":"datum.p=='O'"}],"mark":{"type":"rule","strokeWidth":1.3},"encoding":{"color":{"field":"m","type":"nominal","title":"MR Method","scale":{"domain":["Inverse variance weighted","MR Egger"],"range":["#c3dcee","#6aa3d5"]}}}}]},
{"title":"P","width":201,"height":100,"encoding":{"x":{"field":"b","type":"quantitative","title":"βIV","scale":{"domain":[-0.0483,0.039],"nice":false,"zero":false},"axis":{"values":[-0.04,-0.02,0,0.02],"format":".2f"}}},"layer":[
{"data":{"name":"pts"},"transform":[{"filter":"datum.p=='P'"}],"mark":{"type":"circle","color":"#000","size":14,"opacity":1},"encoding":{"y":{"field":"s","type":"quantitative","title":"1/SEIV","scale":{"domain":[34.7,86.4],"nice":false,"zero":false},"axis":{"values":[40,50,60,70,80]}}}},
{"data":{"name":"lines"},"transform":[{"filter":"datum.p=='P'"}],"mark":{"type":"rule","strokeWidth":1.3},"encoding":{"color":{"field":"m","type":"nominal","title":"MR Method","scale":{"domain":["Inverse variance weighted","MR Egger"],"range":["#c3dcee","#6aa3d5"]}}}}]},
{"title":"Q","width":201,"height":100,"encoding":{"x":{"field":"b","type":"quantitative","title":"βIV","scale":{"domain":[-0.06,0.0463],"nice":false,"zero":false},"axis":{"values":[-0.05,-0.025,0,0.025],"format":".3f"}}},"layer":[
{"data":{"name":"pts"},"transform":[{"filter":"datum.p=='Q'"}],"mark":{"type":"circle","color":"#000","size":14,"opacity":1},"encoding":{"y":{"field":"s","type":"quantitative","title":"1/SEIV","scale":{"domain":[35.8,85.3],"nice":false,"zero":false},"axis":{"values":[40,50,60,70,80]}}}},
{"data":{"name":"lines"},"transform":[{"filter":"datum.p=='Q'"}],"mark":{"type":"rule","strokeWidth":1.3},"encoding":{"color":{"field":"m","type":"nominal","title":"MR Method","scale":{"domain":["Inverse variance weighted","MR Egger"],"range":["#c3dcee","#6aa3d5"]}}}}]},
{"title":"R","width":201,"height":100,"encoding":{"x":{"field":"b","type":"quantitative","title":"βIV","scale":{"domain":[-0.2316,0.189],"nice":false,"zero":false},"axis":{"values":[-0.2,-0.1,0,0.1],"format":".1f"}}},"layer":[
{"data":{"name":"pts"},"transform":[{"filter":"datum.p=='R'"}],"mark":{"type":"circle","color":"#000","size":14,"opacity":1},"encoding":{"y":{"field":"s","type":"quantitative","title":"1/SEIV","scale":{"domain":[12.2,29.8],"nice":false,"zero":false},"axis":{"values":[15,20,25]}}}},
{"data":{"name":"lines"},"transform":[{"filter":"datum.p=='R'"}],"mark":{"type":"rule","strokeWidth":1.3},"encoding":{"color":{"field":"m","type":"nominal","title":"MR Method","scale":{"domain":["Inverse variance weighted","MR Egger"],"range":["#c3dcee","#6aa3d5"]}}}}]}
],
"resolve": {"scale": {"color": "independent"}, "legend": {"color": "independent"}},
"config": {
"font": "Liberation Sans",
"view": {"fill": "#EBEBEB", "stroke": null},
"axis": {"grid": true, "gridColor": "#FFFFFF", "gridWidth": 0.8, "domain": false, "tickColor": "#333333", "tickSize": 2, "tickWidth": 0.5, "labelFontSize": 5, "labelColor": "#4D4D4D", "labelPadding": 1, "titleFontSize": 6.5, "titleFontWeight": "normal", "titleColor": "#000000", "titlePadding": 2},
"title": {"fontSize": 42, "fontWeight": "bold", "anchor": "start", "offset": 0, "color": "#000000", "dx": 8},
"legend": {"orient": "none", "legendX": 72, "legendY": -33, "direction": "vertical", "titleFontSize": 6, "titleFontWeight": "normal", "titleColor": "#333333", "labelFontSize": 5, "labelColor": "#333333", "symbolType": "M0,-1L0,1", "symbolSize": 12, "symbolStrokeWidth": 1.3, "symbolOffset": 3, "rowPadding": 1.5, "titlePadding": 3, "labelOffset": 5}
}
}
